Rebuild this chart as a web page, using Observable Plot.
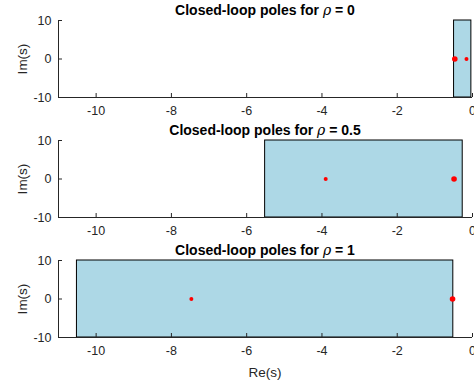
<!DOCTYPE html>
<html>
<head>
<meta charset="utf-8">
<script src="https://cdn.jsdelivr.net/npm/d3@7"></script>
<script src="https://cdn.jsdelivr.net/npm/@observablehq/plot@0.6"></script>
<style>
  body { margin: 0; background: #fff; }
  #wrap { position: relative; width: 474px; height: 385px; overflow: hidden; background: #fff;
          font-family: "Liberation Sans", Arial, Helvetica, sans-serif; color: #262626; }
  #wrap svg { position: absolute; left: 0; }
  .title { position: absolute; left: 58px; width: 414px; text-align: center; font-weight: bold;
           font-size: 14px; line-height: 16px; color: #000; white-space: nowrap; }
  .title i { font-weight: normal; font-family: "DejaVu Serif", "Liberation Serif", serif; }
  .ylab { position: absolute; font-size: 13.5px; line-height: 16px; transform: translate(-50%, -50%) rotate(-90deg); white-space: nowrap; }
  .xlab { position: absolute; left: 58px; width: 414px; text-align: center; font-size: 13.5px; line-height: 16px; }
</style>
</head>
<body>
<div id="wrap"></div>
<script>
// ---- data ----
const rhoValues = [0, 0.5, 1];
const xDomain = [-11, 0];
const yDomain = [-10, 10];
const xTicks = [-10, -8, -6, -4, -2, 0];
const yTicks = [-10, 0, 10];
// closed-loop poles (real, imag, multiplicity) for each rho
const poleRe = [[-0.47, -0.16], [-3.90, -0.49], [-7.47, -0.53]];
const poleIm = [[0, 0], [0, 0], [0, 0]];
const poleMult = [[2, 1], [1, 2], [1, 2]];
// shaded region (real part range) for each rho
const regionLo = [-0.49, -5.51, -10.51];
const regionHi = [-0.03, -0.26, -0.51];

const wrap = document.getElementById("wrap");
const axisColor = "#262626";
const panelTops = [0, 120, 240];
const areaH = 77, mTop = 20, mBottom = 28;

rhoValues.forEach((rho, i) => {
  const pts = poleRe[i].map((re, j) => ({re, im: poleIm[i][j], m: poleMult[i][j]}));
  const svg = Plot.plot({
    width: 474,
    height: mTop + areaH + mBottom,
    marginTop: mTop, marginBottom: mBottom, marginLeft: 58, marginRight: 2,
    style: {fontFamily: "'Liberation Sans', Arial, sans-serif", fontSize: "12.5px", color: axisColor, background: "transparent", overflow: "visible"},
    x: {domain: xDomain},
    y: {domain: yDomain},
    marks: [
      Plot.rect([{lo: regionLo[i], hi: regionHi[i]}], {x1: "lo", x2: "hi", y1: yDomain[0], y2: yDomain[1], fill: "#add8e6", stroke: "#000", strokeWidth: 1}),
      Plot.dot(pts.filter(d => d.m === 1), {x: "re", y: "im", r: 2, fill: "red", stroke: "none"}),
      Plot.dot(pts.filter(d => d.m > 1), {x: "re", y: "im", r: 2.8, fill: "red", stroke: "none"}),
      Plot.ruleY([yDomain[0]], {stroke: axisColor, strokeWidth: 1}),
      Plot.ruleX([xDomain[0]], {stroke: axisColor, strokeWidth: 1}),
      Plot.axisX({ticks: xTicks, tickSize: -4, tickPadding: 13, tickFormat: d => String(d), label: null, stroke: axisColor, fill: axisColor}),
      Plot.axisY({ticks: yTicks, tickSize: -4, tickPadding: 11, tickFormat: d => String(d), label: null, stroke: axisColor, fill: axisColor})
    ]
  });
  svg.style.top = panelTops[i] + "px";
  wrap.appendChild(svg);

  const t = document.createElement("div");
  t.className = "title";
  t.style.top = (panelTops[i] + mTop - 18) + "px";
  t.innerHTML = "Closed-loop poles for <i>\u03c1</i> = " + rho;
  wrap.appendChild(t);

  const yl = document.createElement("div");
  yl.className = "ylab";
  yl.style.left = "23px";
  yl.style.top = (panelTops[i] + mTop + areaH / 2) + "px";
  yl.textContent = "Im(s)";
  wrap.appendChild(yl);
});

const xl = document.createElement("div");
xl.className = "xlab";
xl.style.top = "365px";
xl.textContent = "Re(s)";
wrap.appendChild(xl);
</script>
</body>
</html>
